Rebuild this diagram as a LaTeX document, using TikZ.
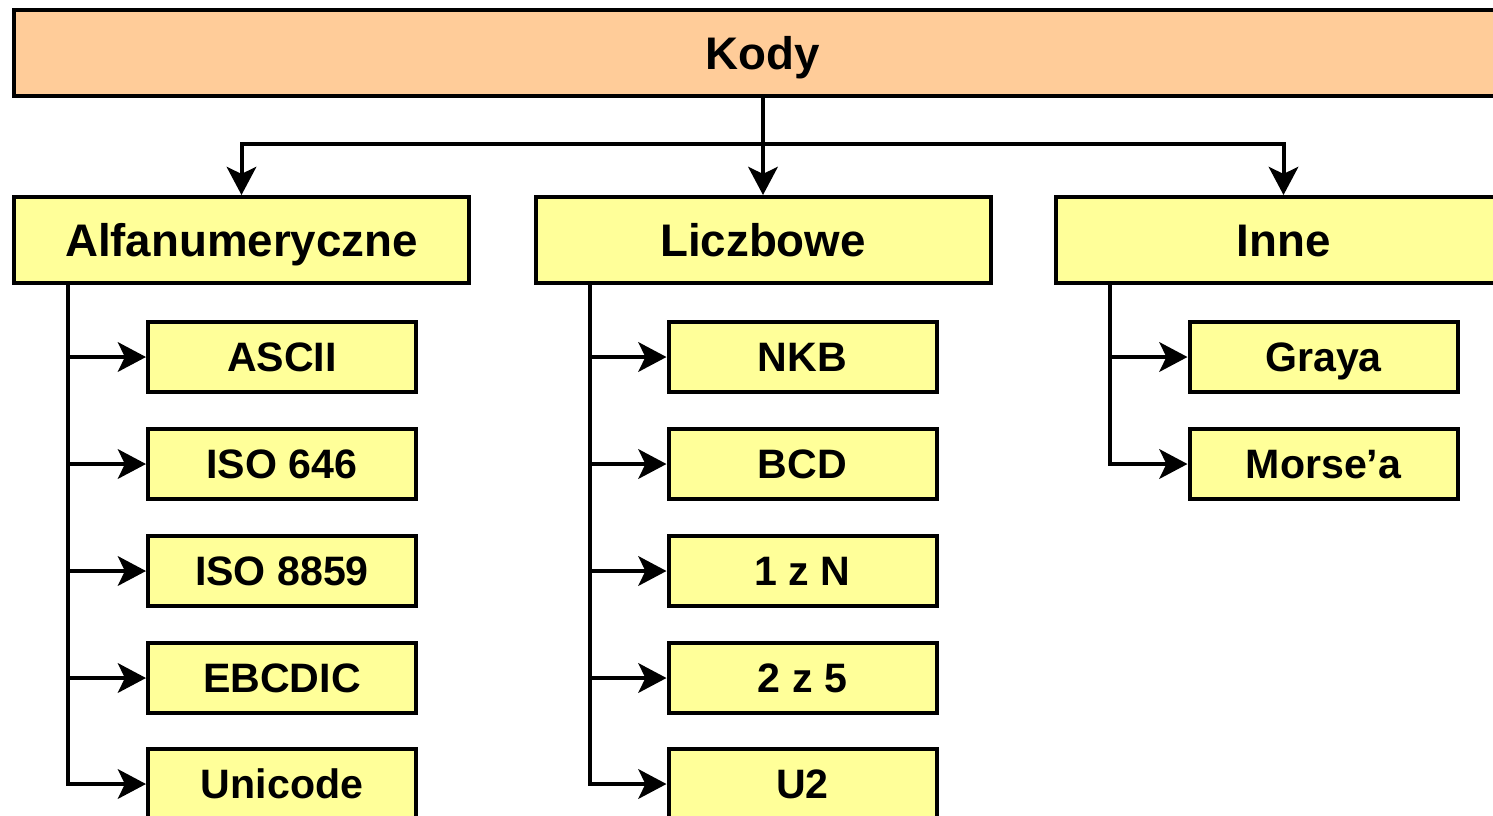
\documentclass[tikz,border=0pt]{standalone}
\usepackage{fontspec}
\setmainfont{Liberation Sans}
\usetikzlibrary{arrows.meta}
\definecolor{pomar}{HTML}{FFCC99}
\definecolor{zolty}{HTML}{FFFF99}
\tikzset{
  glowny/.style={draw, line width=0.4mm, fill=pomar, minimum width=149.8mm, minimum height=8.6mm, text height=9.3pt, text depth=0pt, font=\fontsize{13}{15}\selectfont\bfseries},
  grupa/.style={draw, line width=0.4mm, fill=zolty, minimum width=45.5mm, minimum height=8.6mm, text height=9.3pt, text depth=0pt, font=\fontsize{13}{15}\selectfont\bfseries},
  kod/.style={draw, line width=0.4mm, fill=zolty, minimum width=26.8mm, minimum height=7mm, text height=8.4pt, text depth=0pt, font=\fontsize{11.7}{14}\selectfont\bfseries},
  strzalka/.style={line width=0.4mm, -{Stealth[length=8pt, width=8.4pt, inset=2pt]}}
}
\begin{document}
\begin{tikzpicture}[x=0.1mm, y=-0.1mm]
\path [use as bounding box, clip] (0, 0) rectangle (1493, 815);
\node [glowny] (kody) at (763, 53) {Kody};
\node [grupa] (alfa) at (241.5, 240) {Alfanumeryczne};
\node [grupa] (liczb) at (763, 240) {Liczbowe};
\node [grupa] (inne) at (1283.5, 240) {Inne};
\draw [strzalka] (kody.south) -- (liczb.north);
\draw [strzalka] (kody.south) -- ++(0, -4.6mm) -| (alfa.north);
\draw [strzalka] (kody.south) -- ++(0, -4.6mm) -| (inne.north);
\foreach \nazwa/\y/\tekst in {
	a1/357/ASCII,
	a2/464/ISO 646,
	a3/571/ISO 8859,
	a4/678/EBCDIC,
	a5/784/Unicode
	} {
	\node [kod] (\nazwa) at (282, \y) {\tekst};
	\draw [strzalka] ([xshift=5.6mm]alfa.south west) |- (\nazwa.west);
}
\foreach \nazwa/\y/\tekst in {
	l1/357/NKB,
	l2/464/BCD,
	l3/571/1 z N,
	l4/678/2 z 5,
	l5/784/U2
	} {
	\node [kod] (\nazwa) at (802.5, \y) {\tekst};
	\draw [strzalka] ([xshift=5.6mm]liczb.south west) |- (\nazwa.west);
}
\foreach \nazwa/\y/\tekst in {
	i1/357/Graya,
	i2/464/Morse’a
	} {
	\node [kod] (\nazwa) at (1323.5, \y) {\tekst};
	\draw [strzalka] ([xshift=5.6mm]inne.south west) |- (\nazwa.west);
}
\end{tikzpicture}
\end{document}
